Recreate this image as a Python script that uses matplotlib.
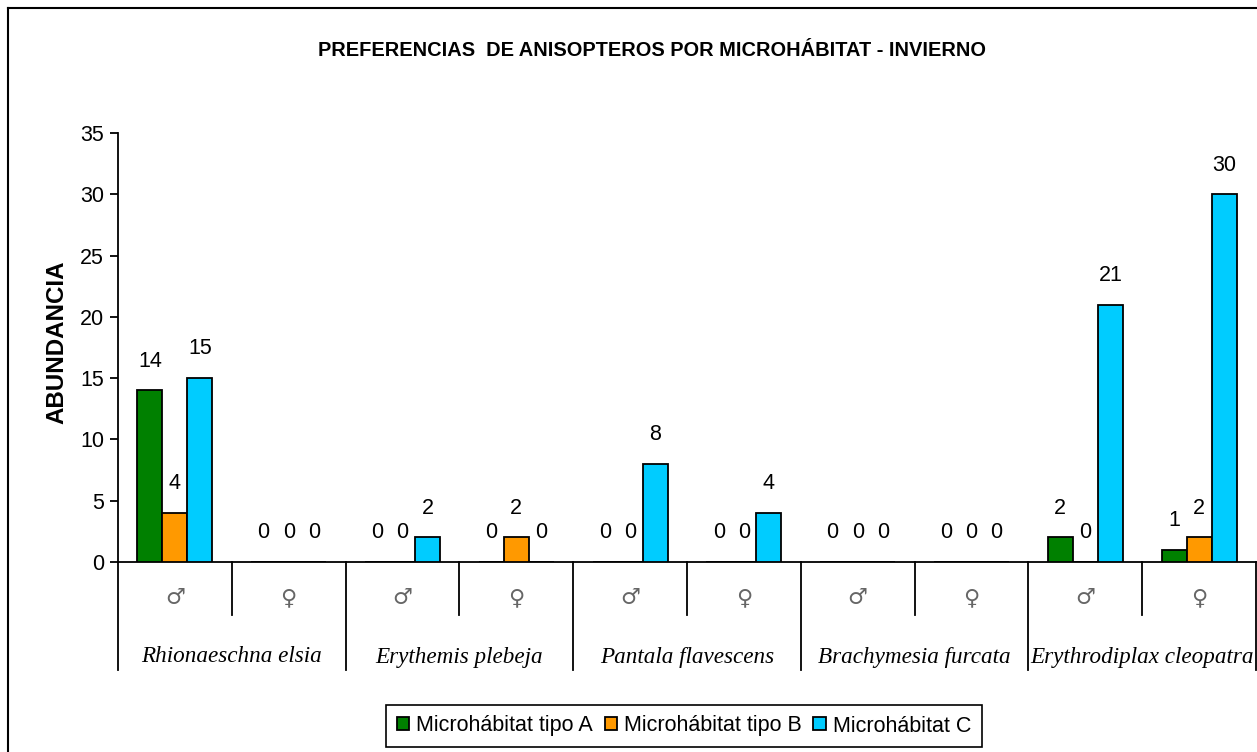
import matplotlib
matplotlib.use('Agg')
from matplotlib import pyplot as plt
from matplotlib.lines import Line2D
import numpy as np

# datos
especies = ['Rhionaeschna elsia', 'Erythemis plebeja', 'Pantala flavescens',
            'Brachymesia furcata', 'Erythrodiplax cleopatra']
sexos = ['♂', '♀']
micro_a = [14, 0, 0, 0, 0, 0, 0, 0, 2, 1]
micro_b = [4, 0, 0, 2, 0, 0, 0, 0, 0, 2]
micro_c = [15, 0, 2, 0, 8, 4, 0, 0, 21, 30]
series = ['Microhábitat tipo A', 'Microhábitat tipo B', 'Microhábitat C']
colores = ['#008000', '#FF9900', '#00CCFF']
yticks = [0, 5, 10, 15, 20, 25, 30, 35]

plt.rcParams['font.family'] = ['Liberation Sans', 'DejaVu Sans']

W, H = 1257, 752
fig = plt.figure(figsize=(W / 100, H / 100), dpi=100)
ax = fig.add_axes([118 / W, 1 - 562 / H, 1138 / W, (562 - 133) / H])

n = len(micro_a)
x = np.arange(n) + 0.5
ancho = 0.22
valores = [micro_a, micro_b, micro_c]
for k in range(3):
    pos = x + (k - 1) * ancho
    ax.bar(pos, valores[k], width=ancho, color=colores[k],
           edgecolor='black', linewidth=1.3, label=series[k], zorder=3)
    for px, v in zip(pos, valores[k]):
        ax.annotate(str(v), (px, v), xytext=(0, 21), textcoords='offset points',
                    ha='center', va='center', fontsize=15.5)

ax.set_xlim(0, n)
ax.set_ylim(0, 35)
ax.set_yticks(yticks)
ax.tick_params(axis='y', labelsize=15.5, length=6, width=1.3, pad=4)
ax.set_xticks([])
for s in ['top', 'right']:
    ax.spines[s].set_visible(False)
ax.spines['left'].set_linewidth(1.3)
ax.spines['bottom'].set_linewidth(1.3)

# lineas de separacion bajo el eje
trans = ax.get_xaxis_transform()
y_sub = -(615 - 562) / (562 - 133)
y_grp = -(670 - 562) / (562 - 133)
for i in range(n + 1):
    fondo = y_grp if i % 2 == 0 else y_sub
    ax.plot([i, i], [0, fondo], color='black', lw=1.3, transform=trans, clip_on=False)

y_sexo = -(598 - 562) / (562 - 133)
y_esp = -(657 - 562) / (562 - 133)
for i in range(n):
    ax.text(i + 0.5, y_sexo, sexos[i % 2], transform=trans, ha='center', va='center',
            fontsize=16, color='#666666', family='DejaVu Sans')
for j, esp in enumerate(especies):
    ax.text(2 * j + 1, y_esp, esp, transform=trans, ha='center', va='center',
            fontsize=16.7, family='Liberation Serif', style='italic')

fig.text(652 / W, 1 - 50 / H, 'PREFERENCIAS  DE ANISOPTEROS POR MICROHÁBITAT - INVIERNO',
         ha='center', va='center', fontsize=14.4, fontweight='bold')
fig.text(57 / W, 1 - 342 / H, 'ABUNDANCIA', rotation=90, ha='center', va='center',
         fontsize=17.4, fontweight='bold')

leg = ax.legend(loc='center', bbox_to_anchor=(684 / W, 1 - 726 / H),
                bbox_transform=fig.transFigure, ncol=3, fontsize=15.5,
                fancybox=False, shadow=False, framealpha=1, edgecolor='black',
                handlelength=0.56, handleheight=0.56, handletextpad=0.33,
                columnspacing=0.55, borderpad=0.5, borderaxespad=0)
leg.get_frame().set_linewidth(1.2)

# marco exterior
fig.add_artist(Line2D([8 / W, 8 / W], [0, 1 - 8 / H], color='black', lw=1.5))
fig.add_artist(Line2D([8 / W, 1], [1 - 8 / H, 1 - 8 / H], color='black', lw=1.5))

fig.savefig('out.png', dpi=100, facecolor='white')
